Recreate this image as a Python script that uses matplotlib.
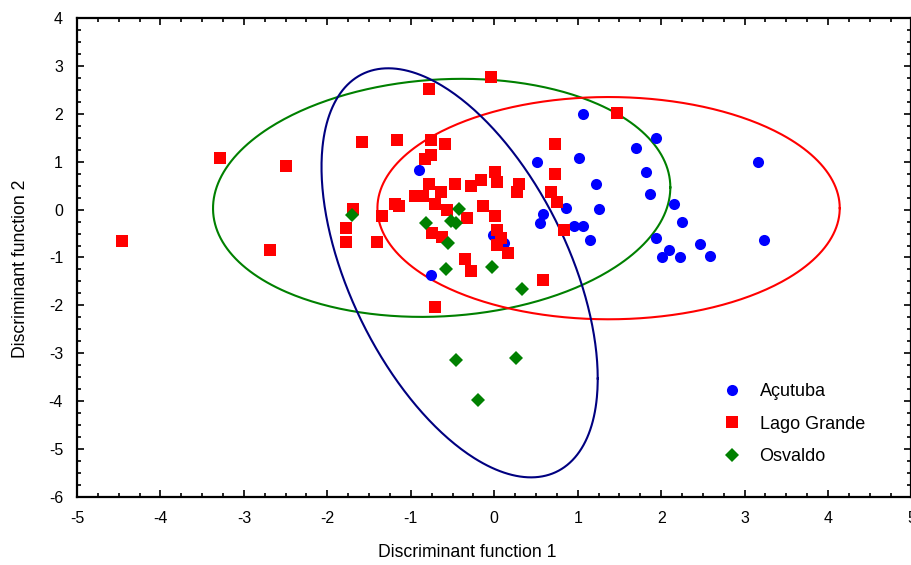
import numpy as np
import matplotlib
matplotlib.use('Agg')
import matplotlib.pyplot as plt
from matplotlib.ticker import MultipleLocator

# scores on the two discriminant functions
acutuba_x = [1.06, 1.94, 1.70, 0.51, 1.01, 3.16, 1.82, 1.22, 1.87, 0.86, 1.25, 0.58, 0.55, 2.15, 2.25,
             0.96, 1.06, 1.15, 1.94, 2.46, 2.58, 2.09, 2.01, 2.23, 3.23, -0.90, -0.01, 0.12, -0.76]
acutuba_y = [1.99, 1.49, 1.28, 1.00, 1.07, 1.00, 0.79, 0.53, 0.33, 0.04, 0.01, -0.09, -0.29, 0.12, -0.25,
             -0.34, -0.34, -0.63, -0.59, -0.71, -0.96, -0.84, -1.00, -1.00, -0.63, 0.83, -0.54, -0.70, -1.37]

lago_x = [-0.04, -0.78, 1.47, -3.29, -2.50, -1.59, -1.16, -0.76, -0.59, 0.73, -0.76, -0.83, 0.73, 0.01,
          0.03, -0.16, -0.28, -0.47, -0.78, -0.64, 0.30, 0.27, 0.68, -0.95, -0.85, 0.75, -1.19, -1.14,
          -0.71, -0.57, -0.14, 0.01, -0.33, -1.35, -1.69, -1.78, -1.78, -1.40, -2.69, -4.46, 0.03, 0.08,
          0.03, 0.17, -0.74, -0.63, 0.84, -0.35, -0.28, 0.58, -0.71]
lago_y = [2.77, 2.52, 2.02, 1.07, 0.91, 1.41, 1.45, 1.45, 1.36, 1.36, 1.15, 1.06, 0.74, 0.78,
          0.58, 0.62, 0.49, 0.53, 0.53, 0.37, 0.53, 0.36, 0.36, 0.28, 0.28, 0.15, 0.12, 0.08,
          0.12, -0.01, 0.08, -0.13, -0.17, -0.13, 0.01, -0.38, -0.68, -0.67, -0.84, -0.66, -0.43, -0.59,
          -0.74, -0.91, -0.49, -0.57, -0.43, -1.04, -1.29, -1.46, -2.04]

osvaldo_x = [-1.70, -0.42, -0.82, -0.52, -0.46, -0.56, -0.58, -0.03, 0.33, -0.46, 0.26, -0.20]
osvaldo_y = [-0.11, 0.01, -0.28, -0.24, -0.28, -0.69, -1.23, -1.19, -1.65, -3.15, -3.10, -3.97]

# ellipses: centre x, centre y, sd x, sd y, correlation
ell_red = [1.37, 0.03, 2.77, 2.32, 0.0]
ell_green = [-0.63, 0.245, 2.74, 2.485, 0.088]
ell_navy = [-0.415, -1.32, 1.655, 4.27, -0.517]

plt.rcParams['font.family'] = ['Liberation Sans', 'DejaVu Sans']
plt.rcParams['axes.unicode_minus'] = False

fig = plt.figure(figsize=(9.12, 5.65), dpi=100)
ax = fig.add_axes([77 / 912, 1 - 497 / 565, 834.5 / 912, 479 / 565])


def ellipse(p, n=400):
    cx, cy, sx, sy, r = p
    t = np.linspace(0, 2 * np.pi, n)
    x = cx + sx * np.cos(t)
    y = cy + sy * (r * np.cos(t) + np.sqrt(1 - r ** 2) * np.sin(t))
    return x, y


for p, c in [(ell_green, '#008000'), (ell_red, '#ff0000'), (ell_navy, '#000080')]:
    ex, ey = ellipse(p)
    ax.plot(ex, ey, color=c, lw=1.5, zorder=2)

ax.plot(acutuba_x, acutuba_y, 'o', ms=8, mfc='#0000ff', mec='#0000ff', mew=0, ls='none', label='Açutuba', zorder=3)
ax.plot(lago_x, lago_y, 's', ms=8, mfc='#ff0000', mec='#ff0000', mew=0, ls='none', label='Lago Grande', zorder=3)
ax.plot(osvaldo_x, osvaldo_y, 'D', ms=6.8, mfc='#008000', mec='#008000', mew=0, ls='none', label='Osvaldo', zorder=3)

ax.set_xlim(-5, 5)
ax.set_ylim(-6, 4)
ax.xaxis.set_major_locator(MultipleLocator(1))
ax.yaxis.set_major_locator(MultipleLocator(1))
ax.xaxis.set_minor_locator(MultipleLocator(0.25))
ax.yaxis.set_minor_locator(MultipleLocator(0.25))
ax.tick_params(which='both', direction='in', top=True, right=True, width=1.2, colors='black')
ax.tick_params(which='major', length=5, labelsize=11.5)
ax.tick_params(which='minor', length=3)
ax.tick_params(axis='x', pad=10)
ax.tick_params(axis='y', pad=10)
for s in ax.spines.values():
    s.set_linewidth(1.6)

ax.set_xlabel('Discriminant function 1', fontsize=12.7)
ax.set_ylabel('Discriminant function 2', fontsize=12.7)
ax.xaxis.set_label_coords(0.468, -0.098)
ax.yaxis.set_label_coords(-0.058, 0.476)

leg = ax.legend(loc='upper left', bbox_to_anchor=(0.7746, 0.238), frameon=False, numpoints=1,
                prop={'size': 13},
                handlelength=1.0, handletextpad=1.0, labelspacing=0.87, borderpad=0, borderaxespad=0)

fig.savefig('out.png', dpi=100)
